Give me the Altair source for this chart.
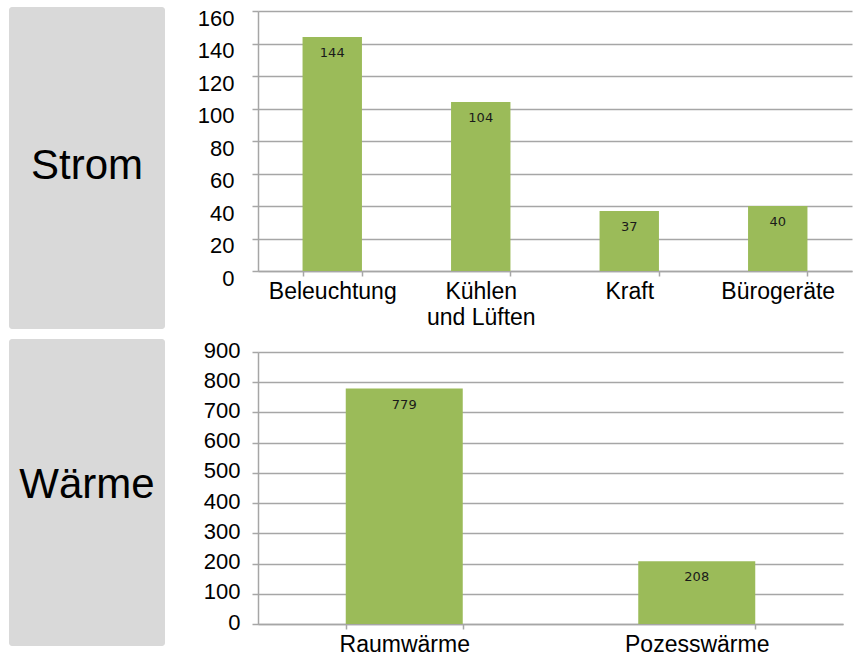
import altair as alt
import pandas as pd

# ---- data ----
strom_categories = ["Beleuchtung", "Kühlen\nund Lüften", "Kraft", "Bürogeräte"]
strom_values = [144, 104, 37, 40]
waerme_categories = ["Raumwärme", "Pozesswärme"]
waerme_values = [779, 208]
row_labels = ["Strom", "Wärme"]
strom_ticks = [0, 20, 40, 60, 80, 100, 120, 140, 160]
waerme_ticks = [0, 100, 200, 300, 400, 500, 600, 700, 800, 900]

GREEN = "#9BBB59"
GRID = "#A6A6A6"
BOX = "#D9D9D9"
FONT = "Liberation Sans"


def panel(cats, vals, label, ticks, width, height, box_y0, box_y1, label_y,
          y_label_offset, y_label_pad):
    df = pd.DataFrame({"cat": cats, "val": vals})
    base = alt.Chart(df)
    x = alt.X(
        "cat:N",
        sort=cats,
        scale=alt.Scale(paddingInner=0.6, paddingOuter=0.3),
        axis=alt.Axis(
            title=None, labelAngle=0, tickBand="extent", grid=False,
            labelExpr="split(datum.label, '\\n')", labelOverlap=False,
            labelFont=FONT, labelFontSize=23, labelColor="#000000",
            labelLineHeight=26, tickSize=5, labelPadding=4,
            domainColor=GRID, tickColor=GRID, domainWidth=1.5, tickWidth=1.5,
        ),
    )
    y = alt.Y(
        "val:Q",
        scale=alt.Scale(domain=[ticks[0], ticks[-1]], nice=False),
        axis=alt.Axis(
            title=None, values=ticks, grid=True, gridColor=GRID, gridWidth=1.5,
            domainColor=GRID, domainWidth=1.5, tickColor=GRID, tickWidth=1.5,
            tickSize=6, labelFont=FONT, labelFontSize=22, labelColor="#000000",
            labelPadding=y_label_pad, labelOffset=y_label_offset,
            labelOverlap=False, labelFlush=False, tickCount=len(ticks),
        ),
    )
    bars = base.mark_bar(color=GREEN).encode(x=x, y=y)
    values = base.mark_text(
        font="DejaVu Sans", fontSize=13, color="#1a1a1a", baseline="middle", dy=16
    ).encode(x=alt.X("cat:N", sort=cats), y="val:Q", text="val:Q")

    lab = alt.Chart(pd.DataFrame({"label": [label]}))
    box = lab.mark_rect(fill=BOX, cornerRadius=3).encode(
        x=alt.value(-249), x2=alt.value(-93),
        y=alt.value(box_y0), y2=alt.value(box_y1),
    )
    box_text = lab.mark_text(
        font=FONT, fontSize=42, color="#000000", align="center", baseline="alphabetic"
    ).encode(text="label:N", x=alt.value(-171), y=alt.value(label_y))

    return alt.layer(box, box_text, bars, values).properties(width=width, height=height)


top = panel(strom_categories, strom_values, row_labels[0], strom_ticks,
            594, 260, -4, 318, 168, 7, 18)
bottom = panel(waerme_categories, waerme_values, row_labels[1], waerme_ticks,
               585, 272, -13, 294, 146, -2, 12)

chart = (
    alt.vconcat(top, bottom, spacing=81, bounds="flush")
    .properties(padding={"left": 8, "top": 6, "right": 0, "bottom": 0}, background="white")
    .configure_view(stroke="transparent")
)

chart.save("out.html", embed_options={"renderer": "svg", "actions": False})
